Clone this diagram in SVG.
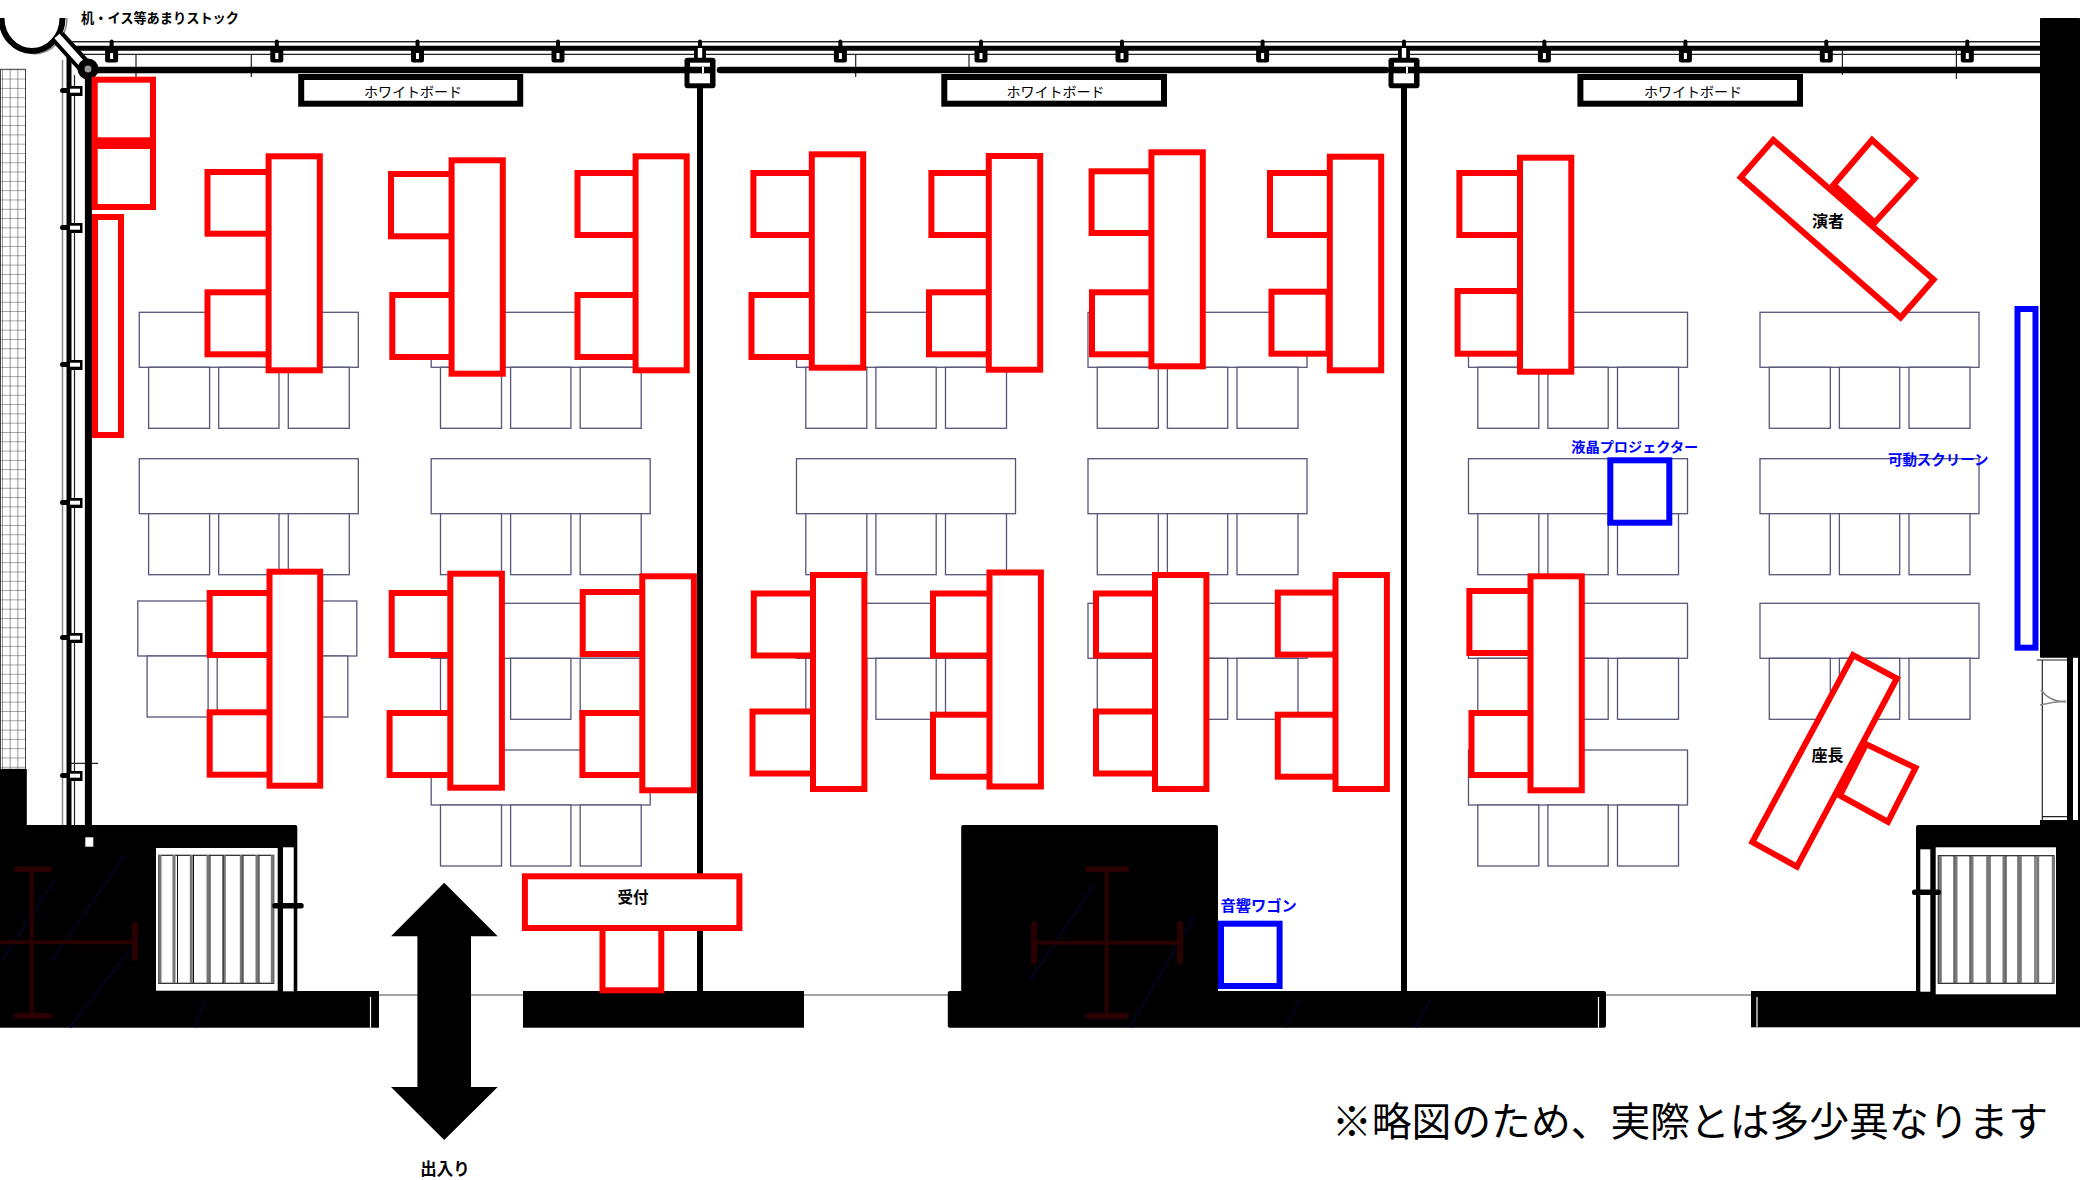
<svg xmlns="http://www.w3.org/2000/svg" width="2080" height="1180" viewBox="0 0 2080 1180">
<style>
.t{font-family:"Noto Sans CJK JP","Noto Sans",sans-serif;text-anchor:middle;dominant-baseline:central}
.b{font-weight:700;fill:#000}
.bl{font-weight:700;fill:#00f}
.r{fill:#fff;stroke:#f00;stroke-width:6}
.u{fill:#fff;stroke:#00f;stroke-width:6}
.wb{fill:#fff;stroke:#000;stroke-width:6}
.tc rect{fill:#fff;stroke:#55557a;stroke-width:1.3}
.k{fill:#000}
.w{fill:#fff}
.thin{stroke:#222;stroke-width:1.2;fill:none}
.gr{stroke:#888;stroke-width:1.5;fill:none}
.thick{stroke:#000;fill:none}
.cross{stroke:#2a0000;stroke-width:4;fill:none}
.capc{stroke:#2a0000;stroke-width:6;stroke-linecap:round;fill:none}
.sl{stroke:#777;stroke-width:3}
.sd{stroke:#111;stroke-width:1}
.fb{stroke:#030312;stroke-width:4;fill:none}
</style>
<defs>
<g id="tc" class="tc">
<rect x="0" y="0" width="219" height="55"/>
<rect x="9.3" y="55" width="61" height="61"/>
<rect x="79.4" y="55" width="60.3" height="61"/>
<rect x="149" y="55" width="61" height="61"/>
</g>
<g id="hanger">
<rect x="-2" y="39.5" width="4" height="10" rx="2" class="k"/>
<rect x="-6.5" y="46" width="13" height="16.5" rx="2.5" class="k"/>
<rect x="-1.5" y="53" width="3" height="6" class="w"/>
</g>
<g id="side">
<rect x="60" y="88" width="10" height="5" rx="2.5" class="k"/>
<rect x="68" y="86" width="14.5" height="10" class="k"/>
<rect x="70" y="88.7" width="10" height="4" class="w"/>
</g>
<g id="junction">
<rect x="-6" y="46.5" width="12" height="12" class="k"/>
<rect x="-2.2" y="48" width="4.4" height="10" class="w"/>
<rect x="-2" y="39.5" width="4" height="8" rx="2" class="k"/>
<rect x="-15.5" y="57.7" width="31" height="30.6" rx="3" class="k"/>
<rect x="-10" y="62.7" width="20" height="4" class="w"/>
<rect x="-10.5" y="73.3" width="20.5" height="10" class="w"/>
<rect x="2" y="67" width="2" height="6" class="w"/>
</g>
<pattern id="grid" x="2" y="69.3" width="7.7" height="9.3" patternUnits="userSpaceOnUse">
<path d="M0 0H7.7M0 0V9.3" stroke="#444" stroke-width="1.1" fill="none"/>
</pattern>
</defs>
<rect x="0" y="0" width="2080" height="1180" fill="#fff"/>

<g id="tables">
<use href="#tc" x="139.3" y="312.3"/><use href="#tc" x="431.2" y="312.3"/><use href="#tc" x="796.5" y="312.3"/><use href="#tc" x="1088" y="312.3"/><use href="#tc" x="1468.5" y="312.3"/><use href="#tc" x="1760" y="312.3"/>
<use href="#tc" x="139.3" y="458.7"/><use href="#tc" x="431.2" y="458.7"/><use href="#tc" x="796.5" y="458.7"/><use href="#tc" x="1088" y="458.7"/><use href="#tc" x="1468.5" y="458.7"/><use href="#tc" x="1760" y="458.7"/>
<use href="#tc" x="137.8" y="601"/><use href="#tc" x="431.2" y="603.3"/><use href="#tc" x="796.5" y="603.3"/><use href="#tc" x="1088" y="603.3"/><use href="#tc" x="1468.5" y="603.3"/><use href="#tc" x="1760" y="603.3"/>
<use href="#tc" x="431.2" y="750"/><use href="#tc" x="1468.5" y="750"/>
</g>

<g id="building">
<rect x="0.5" y="69.3" width="25" height="700" fill="url(#grid)" stroke="#444" stroke-width="1"/>
<path class="gr" d="M2052 41.7H71M62.5 60V825"/>
<path class="thin" d="M71 41.7H2040M71 54.3H2040M74.5 75V825M136 54V77M251.3 54V77M855.7 54V77M969 54V73M1842.4 50V75M1956.4 50V79M67 763.3H98"/>
<path class="thick" stroke-width="5" d="M66 48.3H2040M69 48V825"/>
<path class="thick" stroke-width="6.5" stroke-linecap="round" d="M88 70H684M720 70H1386M1419 70H2040"/>
<path class="thick" stroke-width="7" d="M88.4 66V832"/>
<path class="thick" stroke-width="6" d="M700 85V992M1404 85V992"/>
<path class="gr" d="M67 18A34 36 0 0 1 33 54"/>
<path class="thick" stroke-width="6" d="M1.5 18A30.5 33 0 0 0 62.5 18"/>
<path d="M58 37L88 70" stroke="#000" stroke-width="15" fill="none"/>
<path d="M57 36L84 66" stroke="#fff" stroke-width="7" fill="none"/>
<circle cx="88" cy="69" r="7" fill="#999" stroke="#000" stroke-width="7"/>
<use href="#hanger" x="111.6"/><use href="#hanger" x="276.8"/><use href="#hanger" x="417.5"/><use href="#hanger" x="558"/><use href="#hanger" x="840.4"/><use href="#hanger" x="981"/><use href="#hanger" x="1122"/><use href="#hanger" x="1262.6"/><use href="#hanger" x="1544.4"/><use href="#hanger" x="1685.4"/><use href="#hanger" x="1826.3"/><use href="#hanger" x="1967.3"/>
<use href="#junction" x="700"/><use href="#junction" x="1404"/>
<use href="#side"/><use href="#side" y="137"/><use href="#side" y="274"/><use href="#side" y="412"/><use href="#side" y="547"/><use href="#side" y="685"/>

<!-- left black block -->
<rect class="k" x="0" y="769" width="26.8" height="60"/>
<rect class="k" x="0" y="825" width="297.3" height="170" rx="2"/>
<rect class="k" x="0" y="991" width="379" height="36.7"/>
<path d="M370.5 997V1027.7" stroke="#fff" stroke-width="1.2"/>
<rect class="w" x="85.3" y="837.3" width="8" height="9.4"/>
<rect class="w" x="156" y="848" width="121.7" height="142.7"/>
<rect class="w" x="283" y="847.3" width="10.7" height="144"/>
<rect x="158.7" y="855.3" width="115" height="128" fill="#fff" stroke="#222" stroke-width="1.2"/>
<path class="sl" d="M160 855V983M174 855V983M191.3 855V983M208 855V983M224.3 855V983M241.3 855V983M257 855V983M272.3 855V983"/>
<path class="sd" d="M177.5 855V983M193.5 855V983M210 855V983M223 855V983M243 855V983M259 855V983"/>
<rect class="k" x="272.3" y="903" width="31.4" height="5.4" rx="2.5"/>
<path class="fb" d="M55 880L2 960M125 855L52 960M130 950L70 1027M205 1000L195 1027"/>
<path class="cross" d="M31.7 869.3V1015.7M0 942.3H135"/>
<path class="capc" d="M17 869.3H49M17 1015.7H49M135 925V958"/>

<!-- bands and gray door lines -->
<path class="gr" d="M379 995H523M804 995H948M1606 995H1751"/>
<rect class="k" x="523" y="991" width="281" height="36.7"/>
<rect class="k" x="947.8" y="991" width="658.2" height="36.7" rx="2"/>
<path d="M1598.5 997V1027.7" stroke="#fff" stroke-width="1.2"/>
<rect class="k" x="961.2" y="825" width="256.8" height="170" rx="2"/>
<path class="fb" d="M1095 883L1030 980M1195 915L1130 1027M1300 1000L1285 1027M1430 1000L1415 1027"/>
<path class="cross" d="M1106.6 869.3V1016M1034 942.7H1180"/>
<path class="capc" d="M1088 869.3H1126M1088 1016H1126M1034 924V961M1180 924V961"/>

<!-- right black -->
<rect class="k" x="2040" y="18" width="40" height="639.7" rx="1"/>
<path class="thin" d="M2036.7 660H2067M2042.3 660V820M2042 816.7H2067M2042 820.7H2067"/>
<path class="gr" d="M2041 690Q2050 702 2066 702M2040 705Q2052 702 2066 701"/>
<rect class="k" x="2067" y="655" width="6" height="170"/>
<rect class="k" x="2078" y="655" width="2" height="170"/>
<rect class="k" x="2040" y="820" width="40" height="10"/>
<rect class="k" x="1916" y="825" width="164" height="170" rx="2"/>
<rect class="k" x="1751" y="991" width="329" height="36.3"/>
<path d="M1757 997V1027" stroke="#fff" stroke-width="1.2"/>
<rect class="w" x="1935.7" y="847.3" width="120.3" height="147"/>
<rect class="w" x="1920.3" y="849.3" width="10" height="142.4"/>
<rect x="1938.3" y="855.7" width="115.7" height="127.6" fill="#fff" stroke="#222" stroke-width="1.2"/>
<path class="sl" d="M1940.3 856V983M1956 856V983M1972 856V983M1987.7 856V983M2004 856V983M2020.3 856V983M2037.7 856V983M2053.3 856V983"/>
<path class="sd" d="M1954 856V983M1970 856V983M1990 856V983M2006 856V983M2018 856V983M2035 856V983"/>
<rect class="k" x="1912" y="889.5" width="29" height="5.6" rx="2.5"/>
</g>

<g id="whiteboards">
<g id="wb1"><rect class="wb" x="301.2" y="77" width="219" height="26.7"/><text class="t" x="413" y="90.5" font-size="14">ホワイトボード</text></g>
<g id="wb2"><rect class="wb" x="944.3" y="77" width="219.7" height="26.7"/><text class="t" x="1055.5" y="90.5" font-size="14">ホワイトボード</text></g>
<g id="wb3"><rect class="wb" x="1580.4" y="77" width="219.6" height="26.7"/><text class="t" x="1693" y="90.5" font-size="14">ホワイトボード</text></g>
</g>

<g id="stock">
<rect class="r" x="94.7" y="79.7" width="58.3" height="60.6"/>
<rect class="r" x="94.7" y="146" width="58.3" height="61"/>
<rect class="r" x="95" y="217" width="26" height="218"/>
<text class="t b" x="160" y="17" font-size="13.5" textLength="158" lengthAdjust="spacingAndGlyphs">机・イス等あまりストック</text>
</g>

<g id="group-1"><rect class="r" x="207.5" y="172" width="62" height="61.7"/><rect class="r" x="207.5" y="292.3" width="62" height="62"/><rect class="r" x="268.6" y="156.3" width="51.2" height="214"/></g>
<g id="group-2"><rect class="r" x="391" y="174" width="62" height="62.3"/><rect class="r" x="392.3" y="295" width="62" height="62"/><rect class="r" x="451.6" y="160.3" width="51.2" height="213.4"/></g>
<g id="group-3"><rect class="r" x="577.5" y="173" width="62" height="62"/><rect class="r" x="577.5" y="295" width="62" height="62"/><rect class="r" x="635.6" y="156.3" width="51.1" height="214"/></g>
<g id="group-4"><rect class="r" x="753.4" y="173" width="62" height="62"/><rect class="r" x="751.5" y="295" width="62" height="62"/><rect class="r" x="811.8" y="154.3" width="51.4" height="213.4"/></g>
<g id="group-5"><rect class="r" x="931.4" y="173" width="62" height="62"/><rect class="r" x="929" y="292.3" width="62" height="62"/><rect class="r" x="988.8" y="156" width="51.4" height="213.7"/></g>
<g id="group-6"><rect class="r" x="1091.6" y="171.3" width="62" height="61.7"/><rect class="r" x="1092" y="292.3" width="62" height="62"/><rect class="r" x="1151.4" y="152.3" width="51.4" height="214"/></g>
<g id="group-7"><rect class="r" x="1270" y="173" width="62" height="62"/><rect class="r" x="1329.8" y="156.7" width="51.4" height="213.6"/><rect class="r" x="1271.5" y="291.7" width="57" height="62"/></g>
<g id="group-8"><rect class="r" x="1459.4" y="173" width="62" height="62"/><rect class="r" x="1457.6" y="291" width="62" height="62.7"/><rect class="r" x="1520" y="157.7" width="51.3" height="214"/></g>

<g id="group-9"><rect class="r" x="209.7" y="593" width="62" height="62"/><rect class="r" x="209.7" y="712.3" width="62" height="62.4"/><rect class="r" x="269.5" y="571.7" width="50.7" height="214"/></g>
<g id="group-10"><rect class="r" x="391.7" y="593" width="62" height="62"/><rect class="r" x="389.6" y="713" width="62" height="62"/><rect class="r" x="450.3" y="573.7" width="51.6" height="214"/></g>
<g id="group-11"><rect class="r" x="582.7" y="592" width="62" height="62"/><rect class="r" x="582.4" y="713" width="62" height="62"/><rect class="r" x="642.3" y="576.3" width="51.6" height="214"/></g>
<g id="group-12"><rect class="r" x="753.8" y="593.5" width="62" height="62"/><rect class="r" x="752.5" y="711.5" width="62" height="62"/><rect class="r" x="813" y="575" width="51.4" height="214"/></g>
<g id="group-13"><rect class="r" x="933" y="593.5" width="62" height="62"/><rect class="r" x="933" y="714.7" width="62" height="62"/><rect class="r" x="989.5" y="572.5" width="51.4" height="214"/></g>
<g id="group-14"><rect class="r" x="1096" y="593.5" width="62" height="62"/><rect class="r" x="1096" y="711.5" width="62" height="62"/><rect class="r" x="1155" y="575" width="51.4" height="214"/></g>
<g id="group-15"><rect class="r" x="1277.8" y="592.6" width="62" height="62"/><rect class="r" x="1277.8" y="714.7" width="62" height="62"/><rect class="r" x="1335.5" y="575" width="51.4" height="214"/></g>
<g id="group-16"><rect class="r" x="1469.4" y="591" width="62" height="62"/><rect class="r" x="1471.5" y="713" width="62" height="62"/><rect class="r" x="1530.5" y="576.3" width="51.3" height="214"/></g>

<g id="speaker">
<polygon class="r" points="1872.1,139.9 1914.8,178.5 1874.7,222.5 1833.6,184.8"/>
<polygon class="r" points="1773.3,139.9 1933.6,279.6 1900.6,317.5 1740.7,177.4"/>
<text class="t b" x="1828" y="220.3" font-size="16">演者</text>
</g>
<g id="chair">
<polygon class="r" points="1866.1,744.1 1915.55,767.9 1888,821.9 1839.95,795.5"/>
<polygon class="r" points="1853.1,655.1 1896.85,678.5 1796.9,866.6 1752.35,842.1"/>
<text class="t b" x="1827.5" y="754" font-size="16">座長</text>
</g>
<g id="projector"><rect class="u" x="1610.3" y="460.3" width="59" height="62.4"/><text class="t bl" x="1634.8" y="446" font-size="14" textLength="127" lengthAdjust="spacingAndGlyphs">液晶プロジェクター</text></g>
<g id="screen"><rect class="u" x="2017.5" y="309" width="18" height="338.7"/><text class="t bl" x="1938.2" y="458.5" font-size="14.4" textLength="100.5" lengthAdjust="spacingAndGlyphs">可動スクリーン</text></g>
<g id="wagon"><rect class="u" x="1221" y="923.7" width="58.6" height="62.3"/><text class="t bl" x="1258.7" y="904" font-size="15" textLength="76.5" lengthAdjust="spacingAndGlyphs">音響ワゴン</text></g>

<g id="reception">
<rect class="r" x="602.5" y="928" width="58.8" height="62.3"/>
<rect class="r" x="524.9" y="876.3" width="214.5" height="51.7"/>
<text class="t b" x="633" y="896" font-size="15.5">受付</text>
</g>

<g id="entrance">
<polygon class="k" points="444.2,882.7 497.7,936.3 471,936.3 471,1087 497.7,1087 444.2,1140 391,1087 417.4,1087 417.4,936.3 391,936.3"/>
<text class="t b" x="445" y="1168" font-size="16.5">出入り</text>
</g>

<text id="note" class="t" x="1690" y="1118" font-size="39.8" textLength="716" lengthAdjust="spacingAndGlyphs" fill="#000">※略図のため、実際とは多少異なります</text>
</svg>
